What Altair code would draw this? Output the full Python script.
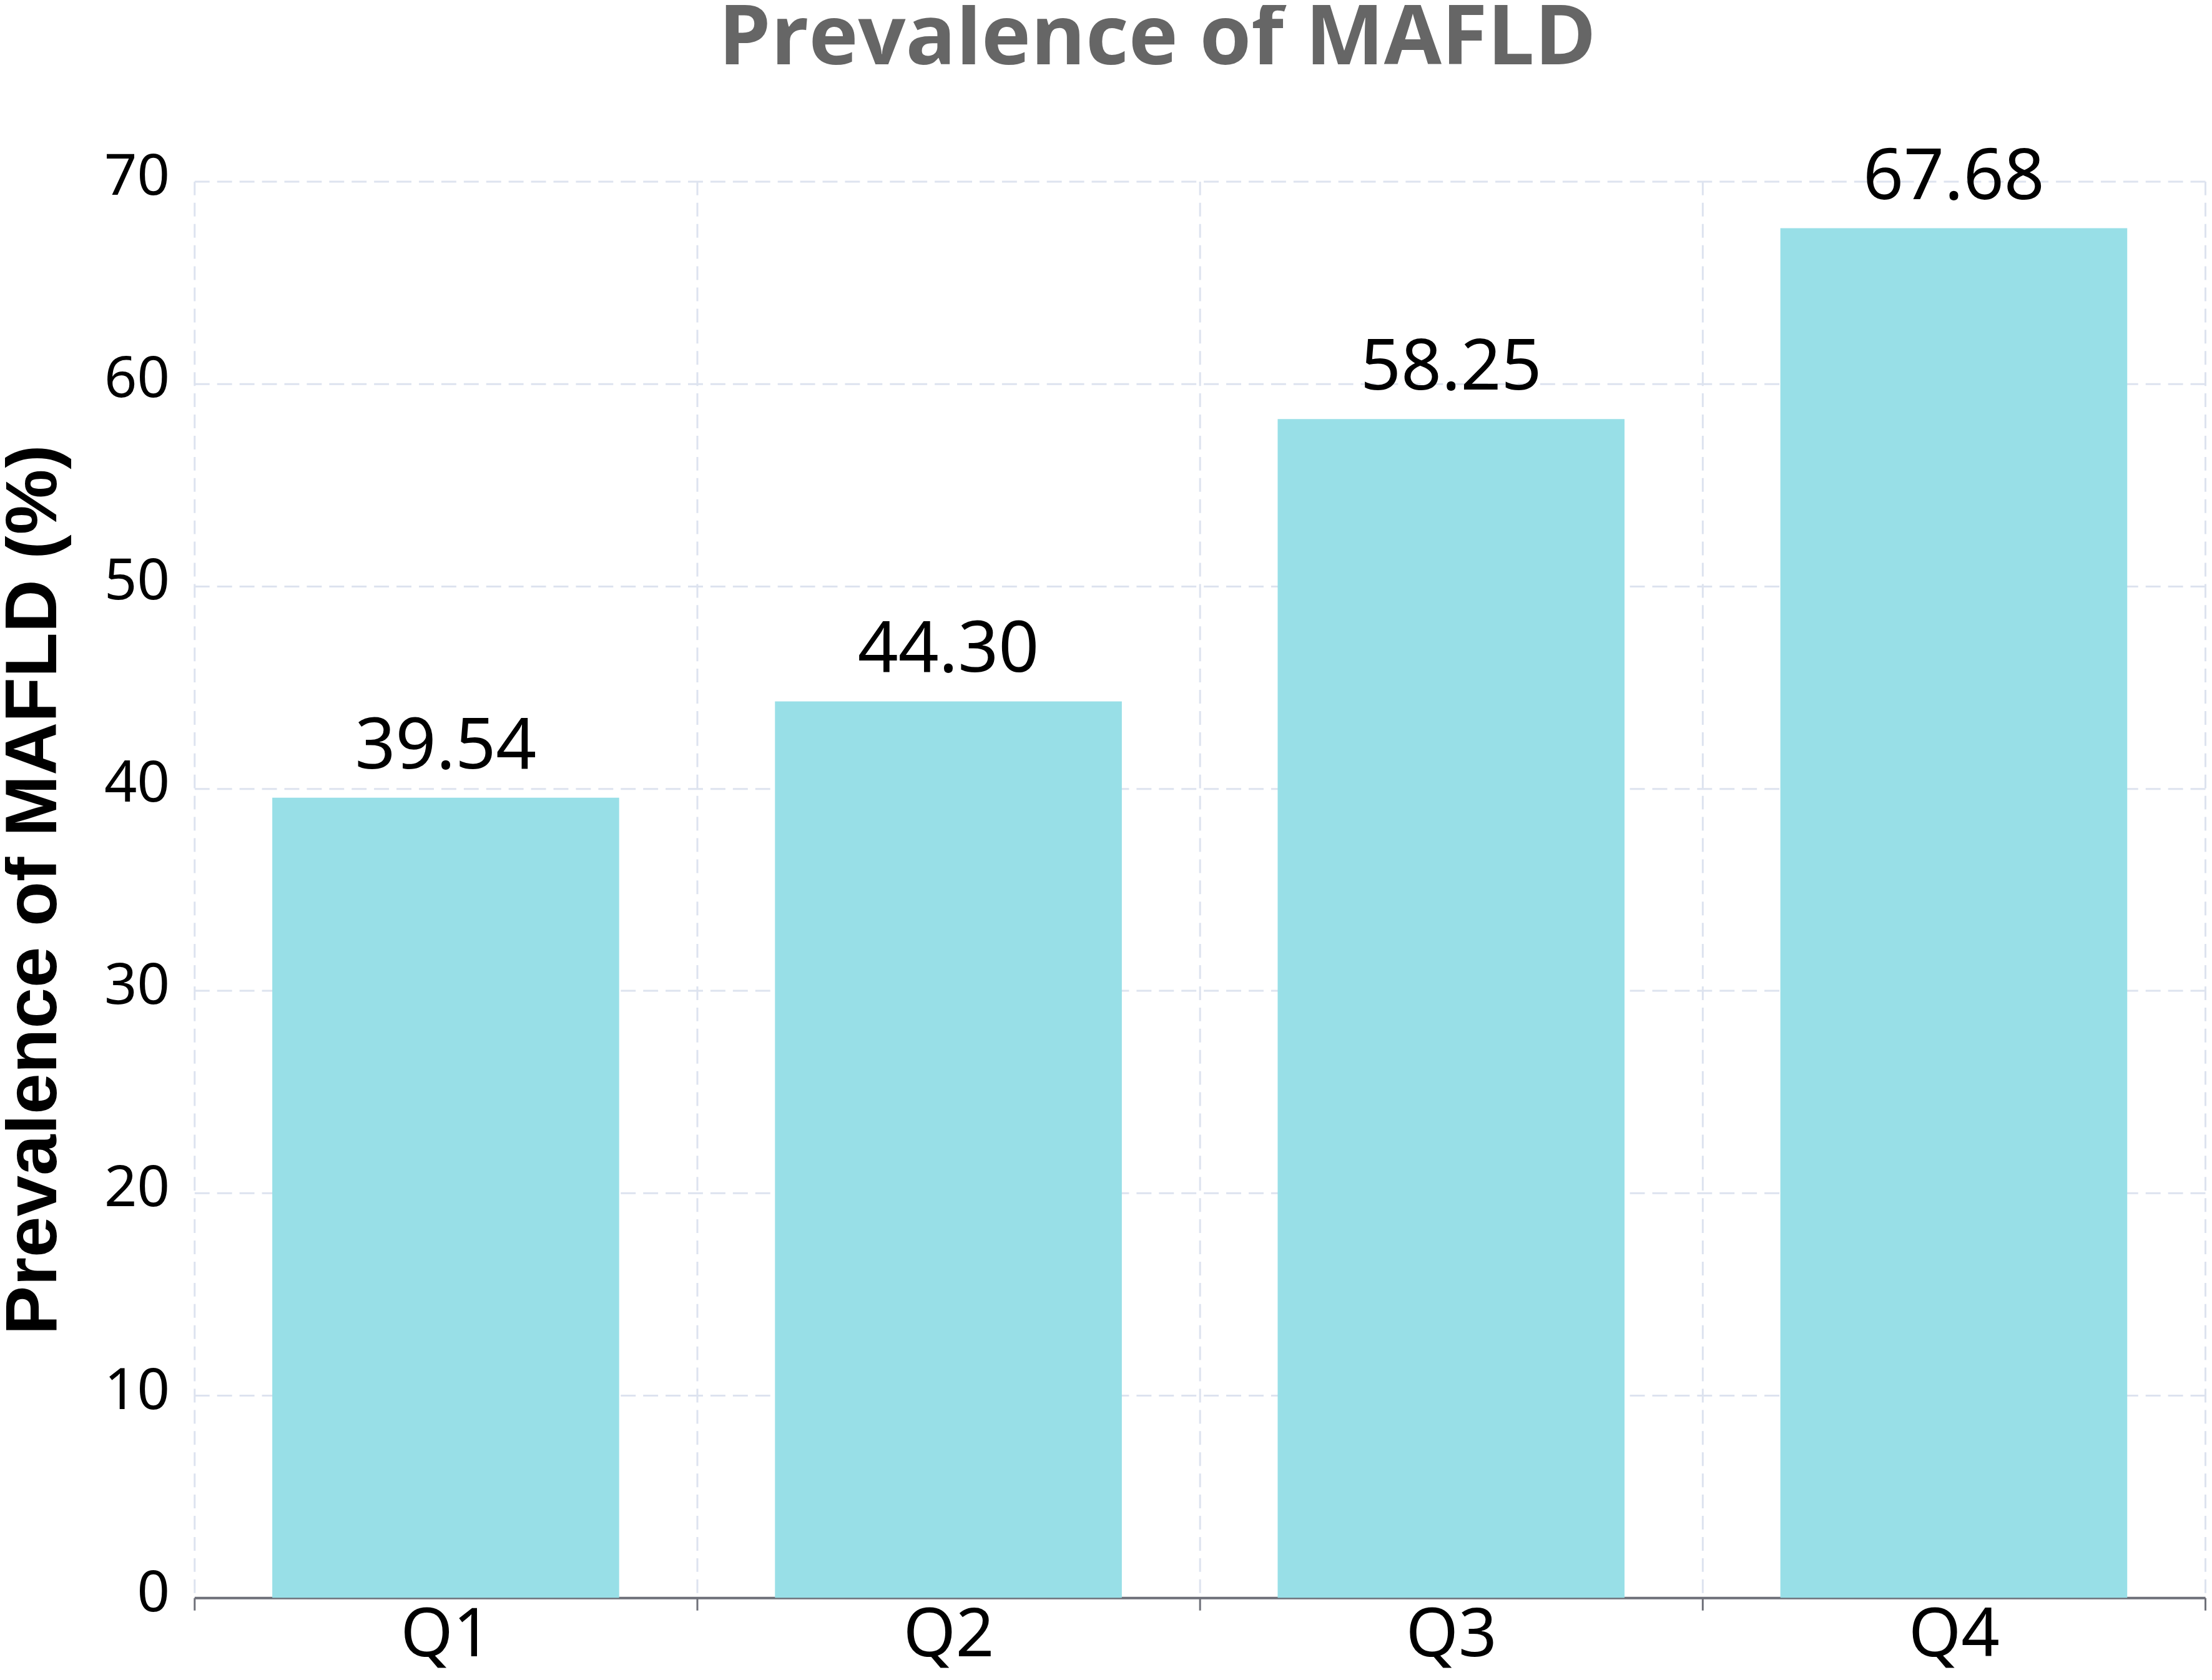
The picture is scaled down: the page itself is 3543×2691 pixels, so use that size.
import altair as alt
import pandas as pd

categories = ["Q1", "Q2", "Q3", "Q4"]
values = [39.54, 44.30, 58.25, 67.68]
y_ticks = [0, 10, 20, 30, 40, 50, 60, 70]

df = pd.DataFrame({"group": categories, "prev": values})

BAR = "#98dfe7"
GRID = "#dde3ef"
AXIS = "#6e7079"
FONT = "Noto Sans"

x_enc = alt.X(
    "group:N",
    sort=categories,
    scale=alt.Scale(paddingInner=0, paddingOuter=0),
    axis=alt.Axis(
        title=None,
        labelAngle=0,
        labelFont=FONT,
        labelFontSize=108,
        labelColor="#000000",
        labelPadding=-12,
        tickBand="extent",
        ticks=True,
        tickSize=20,
        tickWidth=3,
        tickColor=AXIS,
        domain=True,
        domainColor=AXIS,
        domainWidth=4,
        grid=True,
        gridColor=GRID,
        gridWidth=3,
        gridDash=[22, 12],
    ),
)

y_enc = alt.Y(
    "prev:Q",
    scale=alt.Scale(domain=[0, 70], nice=False),
    axis=alt.Axis(
        title="Prevalence of MAFLD (%)",
        titleFont="Liberation Sans",
        titleFontWeight="bold",
        titleFontSize=118,
        titleColor="#000000",
        titleAngle=-90,
        titleAlign="center",
        titleBaseline="alphabetic",
        titleX=-222,
        titleY=1137,
        values=y_ticks,
        labelFont=FONT,
        labelFontSize=92,
        labelColor="#000000",
        labelPadding=40,
        labelBaseline="alphabetic",
        labelOffset=21,
        ticks=False,
        domain=False,
        grid=True,
        gridColor=GRID,
        gridWidth=3,
        gridDash=[24, 12],
    ),
)

bars = alt.Chart(df).mark_bar(color=BAR, width=alt.RelativeBandSize(0.69)).encode(
    x=x_enc, y=y_enc
)

labels = alt.Chart(df).mark_text(
    font=FONT, fontSize=114, color="#000000", baseline="alphabetic", dy=-47
).encode(
    x=alt.X("group:N", sort=categories),
    y=alt.Y("prev:Q"),
    text=alt.Text("prev:Q", format=".2f"),
)

chart = (
    alt.layer(bars, labels)
    .properties(
        width=3228,
        height=2274,
        autosize=alt.AutoSizeParams(type="none"),
        padding={"left": 304, "top": 280, "right": 3, "bottom": 121},
        title=alt.TitleParams(
            "Prevalence of MAFLD",
            font="Open Sans",
            fontWeight="bold",
            fontSize=134,
            color="#666666",
            anchor="middle",
            frame="group",
            dx=-68,
            offset=97,
        ),
    )
    .configure_view(stroke=None)
)

chart.save("out.html", embed_options={"renderer": "svg", "actions": False})
